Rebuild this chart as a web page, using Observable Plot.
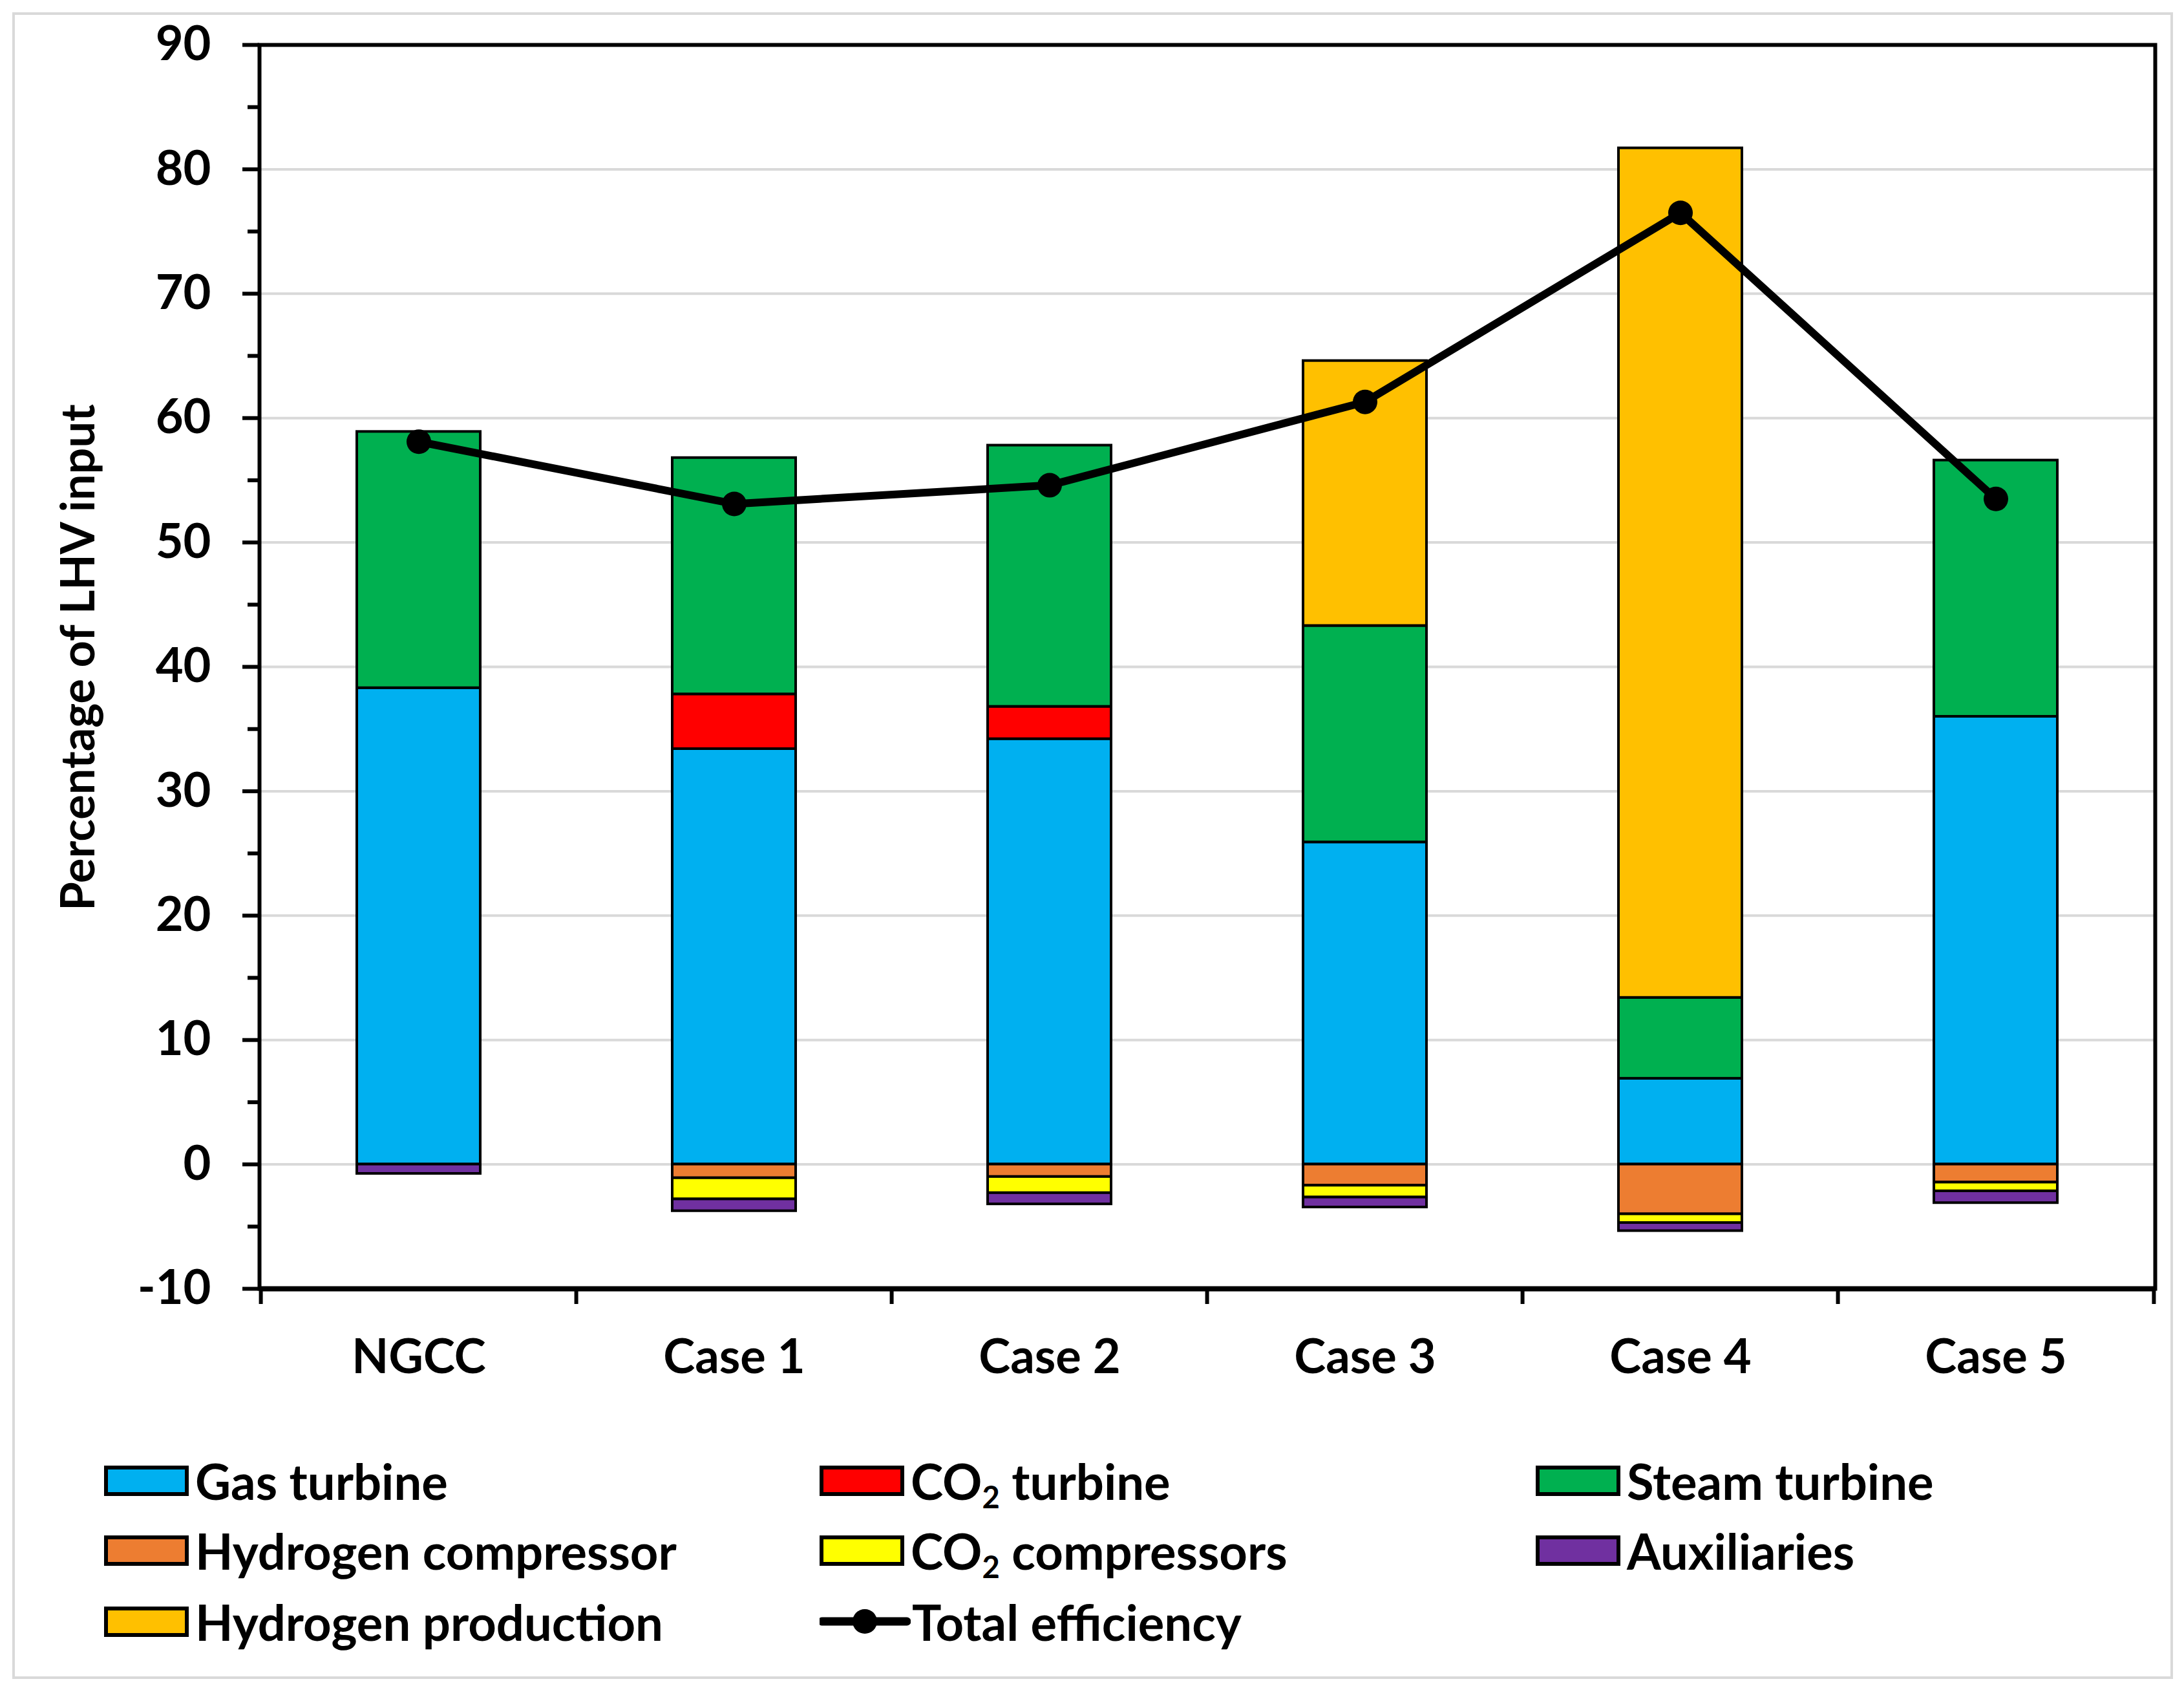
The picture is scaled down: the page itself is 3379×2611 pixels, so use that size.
<!DOCTYPE html>
<html><head><meta charset="utf-8">
<script src="https://cdn.jsdelivr.net/npm/d3@7"></script>
<script src="https://cdn.jsdelivr.net/npm/@observablehq/plot@0.6"></script>
<style>
html,body{margin:0;padding:0;background:#fff;}
#page{position:relative;width:3379px;height:2611px;overflow:hidden;font-family:Lato,"Open Sans",sans-serif;color:#000;}
#border{position:absolute;left:19px;top:19px;width:3343px;height:2578px;border:4px solid #d9d9d9;box-sizing:border-box;}
#chart{position:absolute;left:0;top:0;}
#ytitle{position:absolute;left:118px;top:1017px;transform:translate(-50%,-50%) rotate(-90deg);white-space:nowrap;font-size:72px;font-weight:700;}
.item{position:absolute;display:flex;align-items:center;height:60px;transform:translateY(-50%);font-size:76px;font-weight:700;white-space:nowrap;}
.sw{width:131px;height:47px;border:6px solid #000;box-sizing:border-box;margin-right:10px;flex:none;}
.txt{white-space:pre;}
.txt sub{font-size:0.62em;vertical-align:-0.28em;line-height:0;}
</style></head>
<body><div id="page"><div id="border"></div><div id="chart"></div><div id="ytitle">Percentage of LHV input</div><div id="legend"></div></div>
<script>
const cases = ["NGCC", "Case 1", "Case 2", "Case 3", "Case 4", "Case 5"];
const seriesNames = ["Gas turbine", "CO2 turbine", "Steam turbine", "Hydrogen production", "Hydrogen compressor", "CO2 compressors", "Auxiliaries"];
const seriesColors = ["#00B0F0", "#FF0000", "#00B050", "#FFC000", "#ED7D31", "#FFFF00", "#7030A0"];
const gasTurbine = [38.3, 33.4, 34.2, 25.9, 6.9, 36.0];
const co2Turbine = [0, 4.4, 2.6, 0, 0, 0];
const steamTurbine = [20.6, 19.0, 21.0, 17.4, 6.5, 20.6];
const hydrogenProduction = [0, 0, 0, 21.3, 68.3, 0];
const hydrogenCompressor = [0, -1.1, -1.0, -1.7, -4.0, -1.45];
const co2Compressors = [0, -1.7, -1.3, -0.95, -0.7, -0.7];
const auxiliaries = [-0.75, -0.95, -0.9, -0.8, -0.65, -0.95];
const totalEfficiency = [58.1, 53.1, 54.6, 61.3, 76.5, 53.5];
const yTicks = [-10, 0, 10, 20, 30, 40, 50, 60, 70, 80, 90];
const yMinorTicks = [-5, 5, 15, 25, 35, 45, 55, 65, 75, 85];
const gridTicks = [0, 10, 20, 30, 40, 50, 60, 70, 80];

const seriesValues = [gasTurbine, co2Turbine, steamTurbine, hydrogenProduction, hydrogenCompressor, co2Compressors, auxiliaries];
const barData = [];
seriesNames.forEach((s, si) => cases.forEach((c, ci) => {
  const v = seriesValues[si][ci];
  if (v !== 0) barData.push({case: c, series: s, value: v});
}));
const effData = cases.map((c, i) => ({case: c, eff: totalEfficiency[i]}));

const W = 3379, H = 2200;
const mL = 401, mR = 45, mT = 69, mB = H - 1993;
const step = (W - mL - mR) / cases.length;

const chart = Plot.plot({
  width: W, height: H,
  marginLeft: mL, marginRight: mR, marginTop: mT, marginBottom: mB,
  style: {background: "transparent", fontFamily: "Lato, 'Open Sans', sans-serif", color: "black", overflow: "visible"},
  x: {domain: cases, paddingInner: 0.608, paddingOuter: 0.304, axis: null},
  y: {domain: [-10, 90], axis: null},
  color: {domain: seriesNames, range: seriesColors},
  marks: [
    Plot.gridY(gridTicks, {stroke: "#d9d9d9", strokeWidth: 4, strokeOpacity: 1}),
    Plot.barY(barData, Plot.stackY({x: "case", y: "value", fill: "series", order: seriesNames, stroke: "black", strokeWidth: 4})),
    Plot.line(effData, {x: "case", y: "eff", stroke: "black", strokeWidth: 12, curve: "linear"}),
    Plot.dot(effData, {x: "case", y: "eff", r: 19, fill: "black"}),
    Plot.frame({stroke: "black", strokeWidth: 6}),
    Plot.ruleY([-10], {stroke: "black", strokeWidth: 8}),
    Plot.axisY(yTicks, {anchor: "left", tickSize: 26, tickPadding: 49, strokeWidth: 6, fontSize: 74, fontWeight: "bold", label: null, tickFormat: d => String(d)}),
    Plot.axisY(yMinorTicks, {anchor: "left", tickSize: 18, strokeWidth: 6, text: null, label: null}),
    Plot.axisX(cases, {anchor: "bottom", tickSize: 0, tickPadding: 78, fontSize: 74, fontWeight: "bold", label: null}),
    Plot.ruleX(cases, {x: d => d, y1: -10, y2: -10, insetBottom: -24, dx: -step / 2, stroke: "black", strokeWidth: 6}),
    Plot.ruleX(cases.slice(-1), {x: d => d, y1: -10, y2: -10, insetBottom: -24, dx: step / 2, stroke: "black", strokeWidth: 6})
  ]
});
document.getElementById("chart").appendChild(chart);

// Legend
const legend = document.getElementById("legend");
const colX = [161, 1268, 2376];
const rowY = [2290, 2398, 2508];
const label = s => s.replace("CO2", "CO<sub>2</sub>");
const legendOrder = ["Gas turbine", "CO2 turbine", "Steam turbine", "Hydrogen compressor", "CO2 compressors", "Auxiliaries", "Hydrogen production", "Total efficiency"];
legendOrder.forEach((s, i) => {
  const el = document.createElement("div");
  el.className = "item";
  el.style.left = colX[i % 3] + "px";
  el.style.top = rowY[Math.floor(i / 3)] + "px";
  if (s === "Total efficiency") {
    el.innerHTML = `<svg width="141" height="60" style="margin-right:2px;flex:none"><line x1="4" x2="135" y1="30" y2="30" stroke="black" stroke-width="13" stroke-linecap="round"/><circle cx="70" cy="30" r="19" fill="black"/></svg><span class="txt">${s}</span>`;
  } else {
    const c = seriesColors[seriesNames.indexOf(s)];
    el.innerHTML = `<div class="sw" style="background:${c}"></div><span class="txt">${label(s)}</span>`;
  }
  legend.appendChild(el);
});
</script></body></html>
